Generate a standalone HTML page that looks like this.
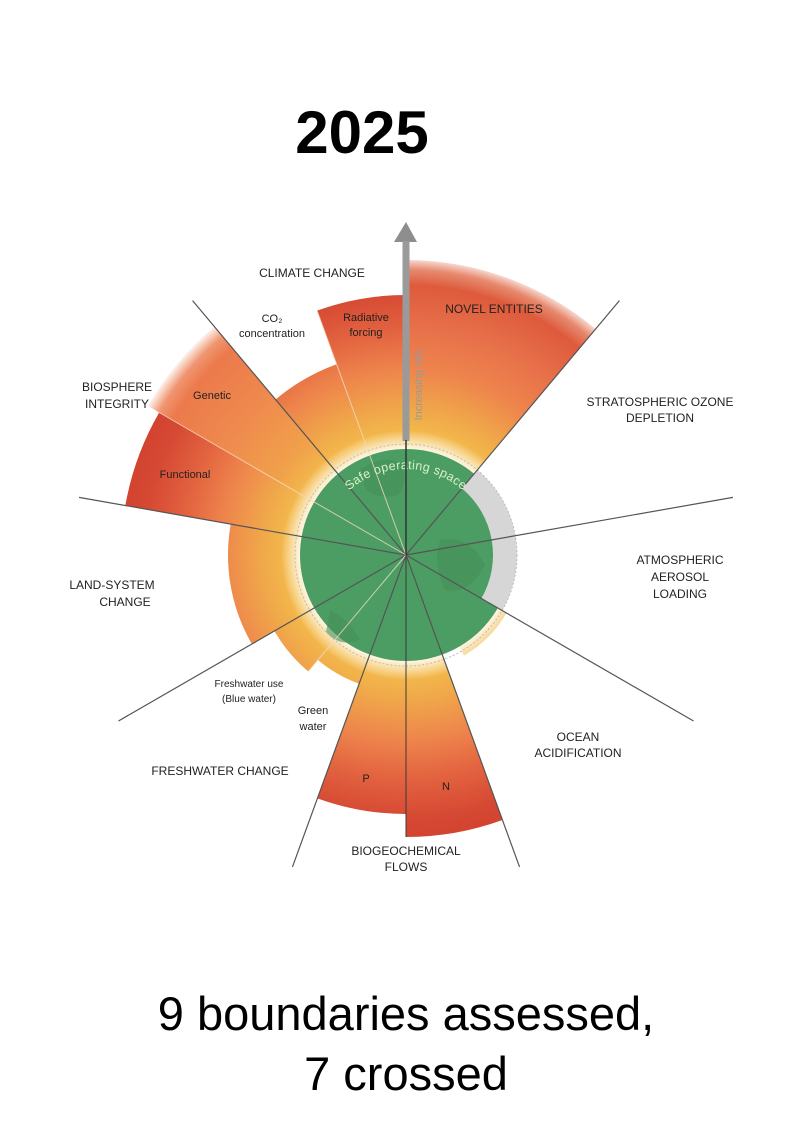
<!DOCTYPE html>
<html><head><meta charset="utf-8"><style>
html,body{margin:0;padding:0;background:#fff;}
svg{display:block;font-family:"Liberation Sans",sans-serif;}
</style></head><body>
<svg id="s" width="806" height="1144" viewBox="0 0 806 1144" xmlns="http://www.w3.org/2000/svg">
<defs>
<radialGradient id="g" gradientUnits="userSpaceOnUse" cx="406" cy="555" r="300">
<stop offset="0.36" stop-color="#f5c24c"/>
<stop offset="0.48" stop-color="#f0a84a"/>
<stop offset="0.62" stop-color="#ee844c"/>
<stop offset="0.75" stop-color="#e2623f"/>
<stop offset="0.88" stop-color="#d54833"/>
<stop offset="1" stop-color="#d0402e"/>
</radialGradient>
<radialGradient id="gf" gradientUnits="userSpaceOnUse" cx="406" cy="555" r="300">
<stop offset="0.36" stop-color="#f5c24c"/>
<stop offset="0.48" stop-color="#f0a84a"/>
<stop offset="0.62" stop-color="#ee844c"/>
<stop offset="0.76" stop-color="#e7704a"/>
<stop offset="0.9" stop-color="#de5a3c"/>
<stop offset="0.95" stop-color="#e06a48" stop-opacity="0.8"/>
<stop offset="1" stop-color="#e06a48" stop-opacity="0"/>
</radialGradient>
<radialGradient id="gg" gradientUnits="userSpaceOnUse" cx="406" cy="555" r="300">
<stop offset="0.36" stop-color="#f5c24c"/>
<stop offset="0.5" stop-color="#f0a04a"/>
<stop offset="0.7" stop-color="#ef8a4e"/>
<stop offset="0.9" stop-color="#ec7a4c"/>
<stop offset="0.95" stop-color="#ec7a4c" stop-opacity="0.8"/>
<stop offset="1" stop-color="#ec7a4c" stop-opacity="0"/>
</radialGradient>
<radialGradient id="halo" gradientUnits="userSpaceOnUse" cx="406" cy="555" r="125">
<stop offset="0.82" stop-color="#fff" stop-opacity="1"/>
<stop offset="1" stop-color="#fff" stop-opacity="0"/>
</radialGradient>
<path id="arc" d="M 320 555 A 86 86 0 0 1 492 555"/>
</defs>
<g id="wedges"></g>
<circle cx="406" cy="555" r="124" fill="url(#halo)"/>
<circle cx="406" cy="555" r="106" fill="#4c9d63"/>
<g id="gray"></g>
<g fill="#44905a" opacity="0.6">
<path d="M360 470 Q380 455 400 462 Q410 480 398 495 Q380 500 366 490 Z"/>
<path d="M440 540 Q470 535 485 565 Q470 595 445 590 Q432 565 440 540 Z"/>
<path d="M330 610 Q350 620 360 640 Q340 648 326 632 Z"/>
</g>
<circle cx="406" cy="555" r="111" fill="none" stroke="#bbb" stroke-width="1" stroke-dasharray="2 2"/>
<g id="lines"></g>
<text font-size="12.5" fill="#d8f0c8" letter-spacing="0.3"><textPath href="#arc" startOffset="50%" text-anchor="middle">Safe operating space</textPath></text>
<polygon points="406,222 394,242 417,242" fill="#8e8e8e"/>
<rect x="402.5" y="241" width="7" height="200" fill="#9a9a9a"/>
<line x1="406" y1="440" x2="406" y2="555" stroke="#333" stroke-width="1.5"/>
<text x="0" y="0" font-size="11" fill="#999" transform="translate(422,385) rotate(-90)" text-anchor="middle">Increasing risk</text>
<g font-size="12" fill="#222" text-anchor="middle">
<text x="312" y="277">CLIMATE CHANGE</text>
<text x="494" y="313">NOVEL ENTITIES</text>
<text x="117" y="391">BIOSPHERE</text><text x="117" y="408">INTEGRITY</text>
<text x="660" y="406">STRATOSPHERIC OZONE</text><text x="660" y="422">DEPLETION</text>
<text x="680" y="564">ATMOSPHERIC</text><text x="680" y="581">AEROSOL</text><text x="680" y="598">LOADING</text>
<text x="112" y="589">LAND-SYSTEM</text><text x="125" y="606">CHANGE</text>
<text x="220" y="775">FRESHWATER CHANGE</text>
<text x="578" y="741">OCEAN</text><text x="578" y="757">ACIDIFICATION</text>
<text x="406" y="855">BIOGEOCHEMICAL</text><text x="406" y="871">FLOWS</text>
</g>
<g font-size="11" fill="#222" text-anchor="middle">
<text x="272" y="322">CO₂</text><text x="272" y="337">concentration</text>
<text x="366" y="321">Radiative</text><text x="366" y="336">forcing</text>
<text x="212" y="399">Genetic</text>
<text x="185" y="478">Functional</text>
<text x="249" y="687" font-size="10">Freshwater use</text><text x="249" y="702" font-size="10">(Blue water)</text>
<text x="313" y="714">Green</text><text x="313" y="730">water</text>
<text x="366" y="782">P</text><text x="446" y="790">N</text>
</g>
<text x="362" y="153" font-size="60" font-weight="bold" text-anchor="middle" fill="#000">2025</text>
<text x="406" y="1030" font-size="47" text-anchor="middle" fill="#000">9 boundaries assessed,</text>
<text x="406" y="1090" font-size="47" text-anchor="middle" fill="#000">7 crossed</text>
</svg>
<script>
var cx=406,cy=555,NS="http://www.w3.org/2000/svg";
function P(a,r){a=a*Math.PI/180;return [cx+r*Math.sin(a),cy-r*Math.cos(a)];}
function wedge(a1,a2,r0,r1){var p1=P(a1,r1),p2=P(a2,r1),q2=P(a2,r0),q1=P(a1,r0);
var lg=(a2-a1)>180?1:0;
return "M"+q1+" L"+p1+" A"+r1+" "+r1+" 0 "+lg+" 1 "+p2+" L"+q2+" A"+r0+" "+r0+" 0 "+lg+" 0 "+q1+" Z";}
function add(g,d,attrs){var e=document.createElementNS(NS,"path");e.setAttribute("d",d);for(var k in attrs)e.setAttribute(k,attrs[k]);document.getElementById(g).appendChild(e);}
var W=[[0,40,295,"url(#gf)"],[340,360,260,"url(#g)"],[320,340,203,"url(#g)"],[300,320,298,"url(#gg)"],[280,300,285,"url(#g)"],[240,280,178,"url(#g)"],[220,240,152,"url(#g)"],[200,220,137,"url(#g)"],[180,200,259,"url(#g)"],[160,180,282,"url(#g)"],[120,150,116,"url(#g)"]];
W.forEach(function(w){add("wedges",wedge(w[0],w[1],0.01,w[2]),{fill:w[3]});});
add("gray",wedge(40,120,87,111),{fill:"#d6d6d6"});
var L=[40,80,120,160,200,240,280,320];
L.forEach(function(a){var p=P(a,332);add("lines","M"+cx+","+cy+" L"+p,{stroke:"#555",'stroke-width':1.2});});
[[300,285],[340,260],[220,152]].forEach(function(s){var p=P(s[0],s[1]);add("lines","M"+cx+","+cy+" L"+p,{stroke:"#f3d9c0",'stroke-width':1,opacity:0.8});});
add("lines","M"+cx+","+cy+" L"+P(180,282),{stroke:"#3a3a3a",'stroke-width':1});
</script>
</body></html>
